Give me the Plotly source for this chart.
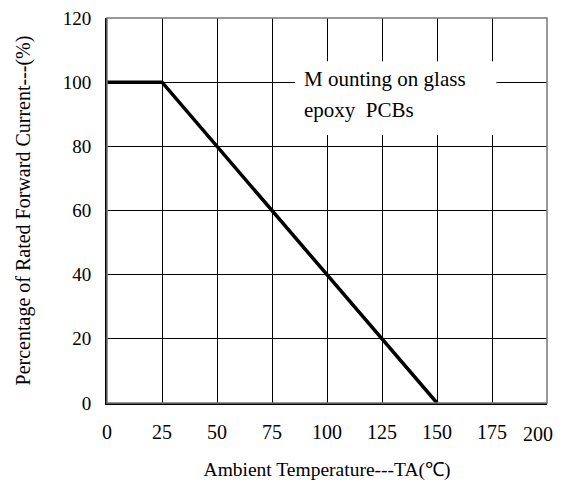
import plotly.graph_objects as go

temps = [0, 25, 150]
percent = [100, 100, 0]
x_ticks = [0, 25, 50, 75, 100, 125, 150, 175, 200]
y_ticks = [0, 20, 40, 60, 80, 100, 120]
note_lines = ["M ounting on glass", "epoxy  PCBs"]

FONT = "Liberation Serif"

fig = go.Figure()
fig.add_trace(go.Scatter(x=temps, y=percent, mode="lines",
                         line=dict(color="black", width=3.5), showlegend=False))

# white box behind annotation text (covers grid)
fig.add_shape(type="rect", xref="x", yref="y", x0=85.5, x1=177, y0=83.5, y1=106.5,
              fillcolor="white", line=dict(width=0), layer="between")
# frame
fig.add_shape(type="rect", xref="paper", yref="paper", x0=0, x1=1, y0=0, y1=1,
              line=dict(color="#777777", width=1.5), layer="above")

fig.add_annotation(x=88.5, y=101, xref="x", yref="y", text=note_lines[0], showarrow=False,
                   xanchor="left", yanchor="middle", font=dict(family=FONT, size=21, color="black"))
fig.add_annotation(x=88.5, y=91.2, xref="x", yref="y", text=note_lines[1], showarrow=False,
                   xanchor="left", yanchor="middle", font=dict(family=FONT, size=21, color="black"))

# last x tick label drawn right-aligned so it stays inside the visible page
x_text = [str(v) for v in x_ticks]
fig.add_annotation(x=x_ticks[-1], y=0, xref="x", yref="paper", text=x_text[-1], showarrow=False,
                   xanchor="right", yanchor="top", xshift=8, yshift=-18,
                   font=dict(family=FONT, size=20, color="black"))

fig.update_xaxes(range=[0, 200], tickvals=x_ticks, ticktext=x_text[:-1] + [""],
                 showgrid=True, gridcolor="black", gridwidth=1, zeroline=False,
                 showline=True, linecolor="black", linewidth=2, ticks="",
                 automargin=False, ticklabelstandoff=10, ticklabeloverflow="allow",
                 tickfont=dict(family=FONT, size=20, color="black"),
                 title=dict(text="Ambient Temperature---TA(℃)", standoff=20,
                            font=dict(family=FONT, size=19.5, color="black")))
fig.update_yaxes(range=[0, 120], tickvals=y_ticks, ticktext=[str(v) for v in y_ticks],
                 showgrid=True, gridcolor="black", gridwidth=1, zeroline=False,
                 showline=True, linecolor="black", linewidth=2, ticks="",
                 automargin=False, ticklabelstandoff=10, ticklabeloverflow="allow",
                 tickfont=dict(family=FONT, size=19, color="black"),
                 title=dict(text="Percentage of Rated Forward Current---(%)", standoff=27,
                            font=dict(family=FONT, size=20, color="black")))

# page body has an 8px margin, so the figure is sized to fit the window from (8, 8)
fig.update_layout(width=556, height=476, margin=dict(l=99, r=17, t=10, b=81),
                  plot_bgcolor="white", paper_bgcolor="white")

fig.write_html("out.html")
